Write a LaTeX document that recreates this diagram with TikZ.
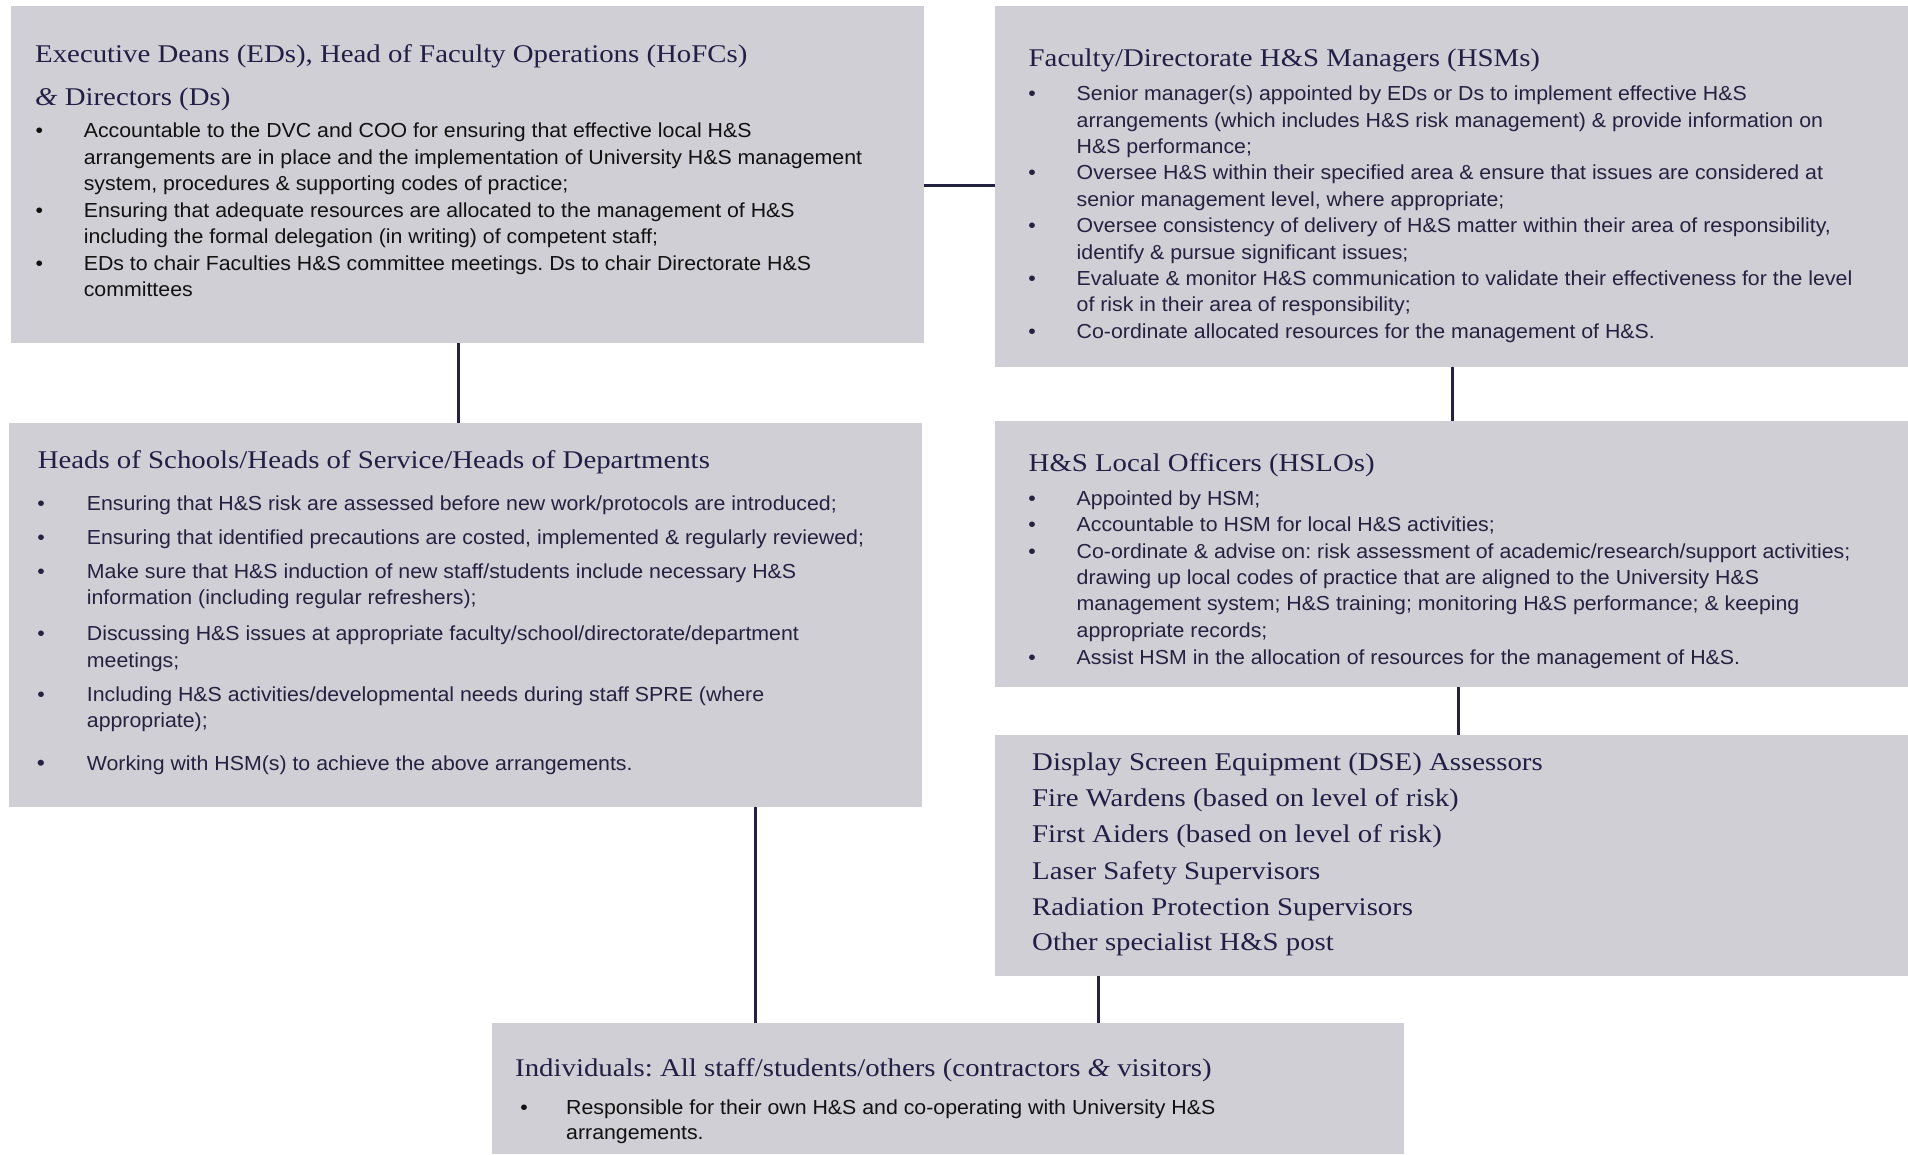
\documentclass[tikz,border=0pt]{standalone}
\usepackage{fontspec}
\newfontfamily\hdfont[FakeStretch=1.13]{Liberation Serif}
\newfontfamily\bdfont[FakeStretch=1.05]{Liberation Sans}
\frenchspacing
\definecolor{boxc}{HTML}{D0CFD6}
\definecolor{headc}{HTML}{221E44}
\definecolor{navyc}{HTML}{25213F}
\definecolor{blackc}{HTML}{111111}
\definecolor{linec}{HTML}{252140}
\tikzset{
  box/.style={fill=boxc, draw=none, anchor=north west, inner sep=0pt},
  hd/.style={anchor=base west, inner sep=0pt, text=headc, font=\hdfont\frenchspacing\fontsize{25.5}{30}\selectfont},
  bd/.style={anchor=base west, inner sep=0pt, text=#1, font=\bdfont\frenchspacing\fontsize{20.3}{24}\selectfont},
  bu/.style={anchor=base, inner sep=0pt, text=#1, font=\bdfont\fontsize{20.3}{24}\selectfont},
  conn/.style={draw=linec, line width=3pt},
}
\newcommand\mkhd[4]{\node[hd] (#1) at (#2,#3) {#4};}
\newcommand\mkbd[5]{\node[bd=#4] (#1) at (#2,#3) {#5};}
\newcommand\mkbu[4]{\node[bu=#4] (#1) at (#2,#3) {•};}
\begin{document}
\begin{tikzpicture}[x=1pt,y=-1pt]
\fill[white] (0,0) rectangle (1908,1154);
\useasboundingbox (0,0) rectangle (1908,1154);
% boxes
\node[box, minimum width=913pt, minimum height=337pt] (b1) at (11,6) {};
\node[box, minimum width=913pt, minimum height=361pt] (b2) at (995,6) {};
\node[box, minimum width=913pt, minimum height=384pt] (b3) at (9,423) {};
\node[box, minimum width=913pt, minimum height=266pt] (b4) at (995,421) {};
\node[box, minimum width=913pt, minimum height=241pt] (b5) at (995,735) {};
\node[box, minimum width=912pt, minimum height=131pt] (b6) at (492,1023) {};
% connectors
\coordinate (k1) at (0,185);
\coordinate (k2) at (458,0);
\coordinate (k3) at (1452,0);
\coordinate (k4) at (1458,0);
\coordinate (k5) at (755,0);
\coordinate (k6) at (1098,0);
\draw[conn] (b1.east |- k1) -- (b2.west |- k1);
\draw[conn] (k2 |- b1.south) -- (k2 |- b3.north);
\draw[conn] (k3 |- b2.south) -- (k3 |- b4.north);
\draw[conn] (k4 |- b4.south) -- (k4 |- b5.north);
\draw[conn] (k5 |- b3.south) -- (k5 |- b6.north);
\draw[conn] (k6 |- b5.south) -- (k6 |- b6.north);
% box 1
\mkhd{h1a}{35}{62.7}{Executive Deans (EDs), Head of Faculty Operations (HoFCs)}
\mkhd{h1b}{35}{105}{{\itshape\&} Directors (Ds)}
\mkbu{u1a}{39.4}{137.5}{blackc}
\mkbd{t1a}{83.6}{137.5}{blackc}{Accountable to the DVC and COO for ensuring that effective local H\&S}
\mkbd{t1b}{83.6}{164}{blackc}{arrangements are in place and the implementation of University H\&S management}
\mkbd{t1c}{83.6}{190.6}{blackc}{system, procedures \& supporting codes of practice;}
\mkbu{u1b}{39.4}{217.1}{blackc}
\mkbd{t1d}{83.6}{217.1}{blackc}{Ensuring that adequate resources are allocated to the management of H\&S}
\mkbd{t1e}{83.6}{243.7}{blackc}{including the formal delegation (in writing) of competent staff;}
\mkbu{u1c}{39.4}{270.2}{blackc}
\mkbd{t1f}{83.6}{270.2}{blackc}{EDs to chair Faculties H\&S committee meetings. Ds to chair Directorate H\&S}
\mkbd{t1g}{83.6}{296.8}{blackc}{committees}
% box 2
\mkhd{h2a}{1028.5}{66.7}{Faculty/Directorate H\&S Managers (HSMs)}
\mkbu{u2a}{1032}{100.7}{navyc}
\mkbd{t2a}{1076.5}{100.7}{navyc}{Senior manager(s) appointed by EDs or Ds to implement effective H\&S}
\mkbd{t2b}{1076.5}{127.1}{navyc}{arrangements (which includes H\&S risk management) \& provide information on}
\mkbd{t2c}{1076.5}{153.5}{navyc}{H\&S performance;}
\mkbu{u2b}{1032}{179.9}{navyc}
\mkbd{t2d}{1076.5}{179.9}{navyc}{Oversee H\&S within their specified area \& ensure that issues are considered at}
\mkbd{t2e}{1076.5}{206.3}{navyc}{senior management level, where appropriate;}
\mkbu{u2c}{1032}{232.7}{navyc}
\mkbd{t2f}{1076.5}{232.7}{navyc}{Oversee consistency of delivery of H\&S matter within their area of responsibility,}
\mkbd{t2g}{1076.5}{259.1}{navyc}{identify \& pursue significant issues;}
\mkbu{u2d}{1032}{285.5}{navyc}
\mkbd{t2h}{1076.5}{285.5}{navyc}{Evaluate \& monitor H\&S communication to validate their effectiveness for the level}
\mkbd{t2i}{1076.5}{311.9}{navyc}{of risk in their area of responsibility;}
\mkbu{u2e}{1032}{338.3}{navyc}
\mkbd{t2j}{1076.5}{338.3}{navyc}{Co-ordinate allocated resources for the management of H\&S.}
% box 3
\mkhd{h3a}{37.6}{468.3}{Heads of Schools/Heads of Service/Heads of Departments}
\mkbu{u3a}{41}{510}{navyc}
\mkbd{t3a}{86.7}{510}{navyc}{Ensuring that H\&S risk are assessed before new work/protocols are introduced;}
\mkbu{u3b}{41}{544.1}{navyc}
\mkbd{t3b}{86.7}{544.1}{navyc}{Ensuring that identified precautions are costed, implemented \& regularly reviewed;}
\mkbu{u3c}{41}{578.2}{navyc}
\mkbd{t3c}{86.7}{578.2}{navyc}{Make sure that H\&S induction of new staff/students include necessary H\&S}
\mkbd{t3d}{86.7}{604.9}{navyc}{information (including regular refreshers);}
\mkbu{u3d}{41}{640.2}{navyc}
\mkbd{t3e}{86.7}{640.2}{navyc}{Discussing H\&S issues at appropriate faculty/school/directorate/department}
\mkbd{t3f}{86.7}{667}{navyc}{meetings;}
\mkbu{u3e}{41}{701.1}{navyc}
\mkbd{t3g}{86.7}{701.1}{navyc}{Including H\&S activities/developmental needs during staff SPRE (where}
\mkbd{t3h}{86.7}{727.8}{navyc}{appropriate);}
\node[bu=navyc, font=\bdfont\fontsize{22}{26}\selectfont] (u3f) at (41,770.4) {•};
\mkbd{t3i}{86.7}{770.4}{navyc}{Working with HSM(s) to achieve the above arrangements.}
% box 4
\mkhd{h4a}{1028.5}{471.7}{H\&S Local Officers (HSLOs)}
\mkbu{u4a}{1032}{505.3}{navyc}
\mkbd{t4a}{1076.5}{505.3}{navyc}{Appointed by HSM;}
\mkbu{u4b}{1032}{531.7}{navyc}
\mkbd{t4b}{1076.5}{531.7}{navyc}{Accountable to HSM for local H\&S activities;}
\mkbu{u4c}{1032}{558.3}{navyc}
\mkbd{t4c}{1076.5}{558.3}{navyc}{Co-ordinate \& advise on: risk assessment of academic/research/support activities;}
\mkbd{t4d}{1076.5}{584.3}{navyc}{drawing up local codes of practice that are aligned to the University H\&S}
\mkbd{t4e}{1076.5}{610.7}{navyc}{management system; H\&S training; monitoring H\&S performance; \& keeping}
\mkbd{t4f}{1076.5}{637.3}{navyc}{appropriate records;}
\mkbu{u4d}{1032}{664}{navyc}
\mkbd{t4g}{1076.5}{664}{navyc}{Assist HSM in the allocation of resources for the management of H\&S.}
% box 5
\mkhd{h5a}{1032}{770.7}{Display Screen Equipment (DSE) Assessors}
\mkhd{h5b}{1032}{806.7}{Fire Wardens (based on level of risk)}
\mkhd{h5c}{1032}{842.7}{First Aiders (based on level of risk)}
\mkhd{h5d}{1032}{879}{Laser Safety Supervisors}
\mkhd{h5e}{1032}{915}{Radiation Protection Supervisors}
\mkhd{h5f}{1032}{950.7}{Other specialist H\&S post}
% box 6
\mkhd{h6a}{515}{1076}{Individuals: All staff/students/others (contractors {\itshape\&} visitors)}
\mkbu{u6a}{524}{1114}{blackc}
\mkbd{t6a}{566}{1114}{blackc}{Responsible for their own H\&S and co-operating with University H\&S}
\mkbd{t6b}{566}{1139}{blackc}{arrangements.}
\end{tikzpicture}
\end{document}
